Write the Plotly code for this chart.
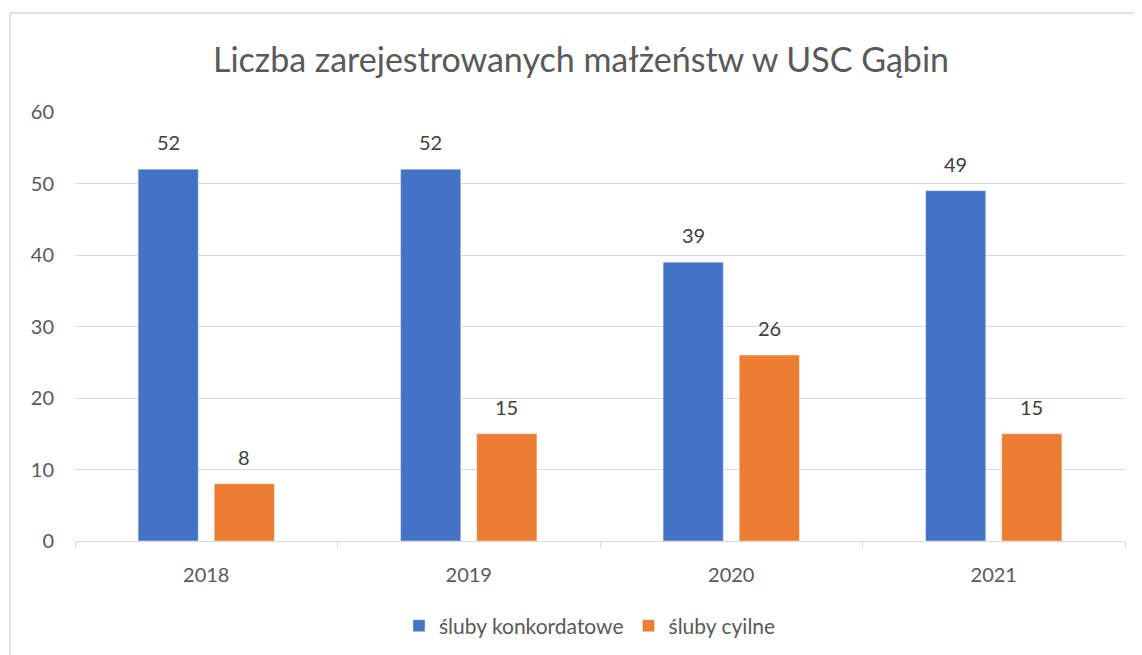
import plotly.graph_objects as go

years = ["2018", "2019", "2020", "2021"]
konkordatowe = [52, 52, 39, 49]
cywilne = [8, 15, 26, 15]
series_names = ["śluby konkordatowe", "śluby cyilne"]

# page has an 8px body margin; compute figure-space pixel targets
OFF = 8
W, H = 1142, 655
ml = 75 - OFF
mt = 112 - OFF
plot_bottom = 541 - OFF
plot_right = 1125 - OFF
mb = H - plot_bottom
mr = W - plot_right
ph = H - mt - mb
pw = W - ml - mr
FONT = "Lato, Calibri, sans-serif"

fig = go.Figure()
fig.add_trace(go.Bar(x=years, y=konkordatowe, name=series_names[0],
                     marker_color="#4472C4"))
fig.add_trace(go.Bar(x=years, y=cywilne, name=series_names[1],
                     marker_color="#ED7D31"))

annotations = []
for vals, xs in ((konkordatowe, -38), (cywilne, 38)):
    for i, v in enumerate(vals):
        annotations.append(dict(x=i, y=v, xref="x", yref="y", text=str(v),
                                showarrow=False, xshift=xs, yshift=27,
                                yanchor="middle", xanchor="center",
                                font=dict(size=20, color="#404040", family=FONT)))

fig.update_layout(
    width=W, height=H,
    margin=dict(l=ml, r=mr, t=mt, b=mb, autoexpand=False),
    paper_bgcolor="white", plot_bgcolor="white",
    font=dict(family=FONT, size=20, color="#595959"),
    title=dict(text="Liczba zarejestrowanych małżeństw w USC Gąbin",
               x=(581 - OFF) / W, xanchor="center", y=1 - (60 - OFF) / H, yanchor="middle",
               font=dict(size=34, color="#595959")),
    barmode="group", bargap=0.42, bargroupgap=0.21,
    legend=dict(orientation="h", x=(590 - OFF - ml) / pw, xanchor="center",
                y=(plot_bottom - (626 - OFF)) / ph, yanchor="middle",
                font=dict(size=21, color="#595959"), itemwidth=30),
    showlegend=True,
    annotations=annotations,
    xaxis=dict(type="category", range=[-0.5, len(years) - 0.5], autorange=False,
               showline=True, linecolor="#d9d9d9", linewidth=1,
               ticks="outside", tickson="boundaries", ticklen=6, tickcolor="#d9d9d9",
               showgrid=False, ticklabelstandoff=16,
               tickfont=dict(size=20, color="#595959")),
    yaxis=dict(range=[0, 60], autorange=False, dtick=10, showgrid=True, gridcolor="#d9d9d9",
               gridwidth=1, zeroline=False, showline=False, ticks="",
               ticklabelstandoff=20,
               tickfont=dict(size=20, color="#595959")),
    shapes=[dict(type="rect", xref="paper", yref="paper",
                 x0=(10 - OFF - ml) / pw, x1=1.2, y0=-0.5,
                 y1=(plot_bottom - (13 - OFF)) / ph,
                 line=dict(color="#d9d9d9", width=1.5), fillcolor="rgba(0,0,0,0)",
                 layer="below")],
)

fig.write_html("out.html")
